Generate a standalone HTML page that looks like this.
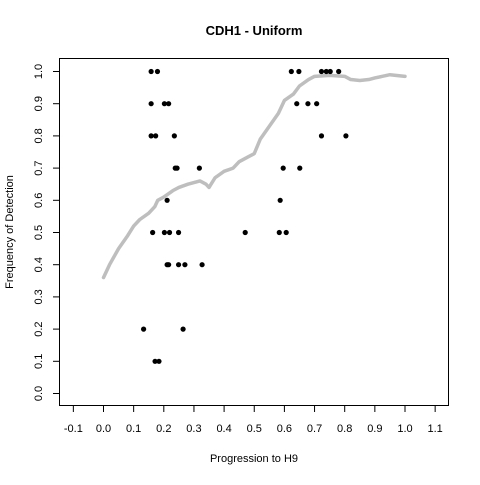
<!DOCTYPE html>
<html><head><meta charset="utf-8"><style>
body{margin:0;background:#fff}
svg text{font-family:"Liberation Sans",sans-serif;font-size:11px;fill:#000}
</style></head><body>
<svg width="480" height="480" id="c">
<rect x="0" y="0" width="480" height="480" fill="#fff"/>
<text x="254" y="35" text-anchor="middle" style="font-size:13px;font-weight:bold">CDH1 - Uniform</text>
<text x="254" y="462" text-anchor="middle">Progression to H9</text>
<text transform="translate(13,232) rotate(-90)" text-anchor="middle">Frequency of Detection</text>
<rect x="59.5" y="58.5" width="389" height="347" fill="none" stroke="#000"/>
<g id="curve"></g>
<g id="pts"></g>
<g id="ax"></g>
</svg>
<script>
const curveX=[0,0.02,0.05,0.08,0.1,0.12,0.15,0.17,0.18,0.2,0.23,0.25,0.28,0.3,0.32,0.34,0.35,0.37,0.4,0.43,0.45,0.48,0.5,0.52,0.55,0.58,0.6,0.63,0.65,0.68,0.7,0.75,0.8,0.82,0.85,0.88,0.9,0.95,1.0];
const curveY=[0.36,0.4,0.45,0.49,0.52,0.54,0.56,0.58,0.60,0.61,0.63,0.64,0.65,0.655,0.66,0.65,0.64,0.67,0.69,0.70,0.72,0.735,0.745,0.79,0.83,0.87,0.91,0.93,0.955,0.975,0.985,0.988,0.985,0.975,0.972,0.975,0.98,0.99,0.985];
const ptX=[0.158,0.179,0.623,0.648,0.723,0.739,0.752,0.780,
0.158,0.202,0.216,0.641,0.678,0.707,
0.158,0.173,0.235,0.723,0.804,
0.238,0.244,0.318,0.596,0.651,
0.211,0.586,
0.163,0.202,0.219,0.249,0.470,0.583,0.606,
0.211,0.216,0.249,0.270,0.327,
0.133,0.264,0.171,0.184];
const ptY=[1,1,1,1,1,1,1,1,
0.9,0.9,0.9,0.9,0.9,0.9,
0.8,0.8,0.8,0.8,0.8,
0.7,0.7,0.7,0.7,0.7,
0.6,0.6,
0.5,0.5,0.5,0.5,0.5,0.5,0.5,
0.4,0.4,0.4,0.4,0.4,
0.2,0.2,0.1,0.1];
const xTicks=[-0.1,0,0.1,0.2,0.3,0.4,0.5,0.6,0.7,0.8,0.9,1.0,1.1];
const yTicks=[0,0.1,0.2,0.3,0.4,0.5,0.6,0.7,0.8,0.9,1.0];
const xs=v=>103.5+v*301.5, ys=v=>393.5-v*322;
const NS="http://www.w3.org/2000/svg";
function mk(t,p,a){const e=document.createElementNS(NS,t);for(const k in a)e.setAttribute(k,a[k]);p.appendChild(e);return e;}
const cg=document.getElementById('curve');
const cpts=curveX.map((x,i)=>xs(x)+','+ys(curveY[i])).join(' ');
const pl=mk('polyline',cg,{points:cpts,fill:'none',stroke:'#bebebe','stroke-width':3.5,'stroke-linejoin':'round','stroke-linecap':'round'});


const pg=document.getElementById('pts');
ptX.forEach((x,i)=>{const c=mk('circle',pg,{cx:xs(x),cy:ys(ptY[i]),r:2.6,fill:'#000'});

});
const ax=document.getElementById('ax');
xTicks.forEach(v=>{const x=xs(v);mk('line',ax,{x1:x,x2:x,y1:405.5,y2:412,stroke:'#000'});
const t=mk('text',ax,{x:x,y:432,'text-anchor':'middle'});t.textContent=v.toFixed(1);

});
yTicks.forEach(v=>{const y=ys(v);mk('line',ax,{x1:53,x2:59.5,y1:y,y2:y,stroke:'#000'});
const t=mk('text',ax,{transform:`translate(42,${y}) rotate(-90)`,'text-anchor':'middle'});t.textContent=v.toFixed(1);

});
</script>
</body></html>
